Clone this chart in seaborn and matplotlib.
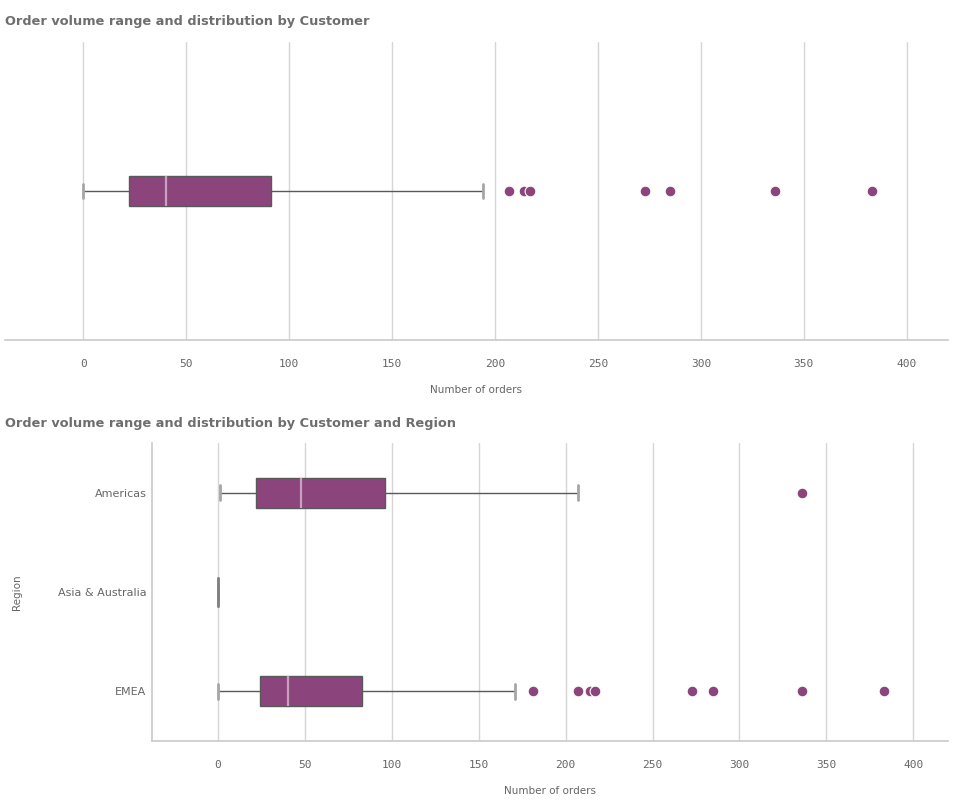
import matplotlib
matplotlib.use("Agg")
import matplotlib.pyplot as plt
import seaborn as sns
import pandas as pd

# Customer-level order volume (box statistics)
cust_stats = {"whislo": 0, "q1": 22, "med": 40, "q3": 91, "whishi": 194}
cust_outliers = [207, 214, 217, 273, 285, 336, 383]

# By region
regions = ["Americas", "Asia & Australia", "EMEA"]
region_whislo = [1, 0, 0]
region_q1 = [22, 0, 24]
region_med = [48, 0, 40]
region_q3 = [96, 0, 83]
region_whishi = [207, 0, 171]
region_outliers = {
    "Americas": [336],
    "Asia & Australia": [],
    "EMEA": [181, 207, 214, 217, 273, 285, 336, 383],
}

xticks = [0, 50, 100, 150, 200, 250, 300, 350, 400]

PURPLE = "#8c457c"
MEDIAN = "#c8a0c0"
EDGE = "#595959"
CAP = "#a6a6a6"
GRID = "#d6d6d6"
TEXT = "#666666"
TITLE = "#6e6e6e"

sns.set_theme(style="white")
plt.rcParams["font.family"] = ["DejaVu Sans"]

fig = plt.figure(figsize=(9.56, 8.07), dpi=100)
ax1 = fig.add_axes([0.0052, 0.5787, 0.9864, 0.3693])
ax2 = fig.add_axes([0.159, 0.0818, 0.8326, 0.3693])


def draw_boxes(ax, stats, positions, width, capw):
    return ax.bxp(stats, positions=positions, widths=width, orientation="horizontal",
                  patch_artist=True, showfliers=False, capwidths=capw,
                  boxprops=dict(facecolor=PURPLE, edgecolor=EDGE, linewidth=1),
                  medianprops=dict(color=MEDIAN, linewidth=1.6),
                  whiskerprops=dict(color=EDGE, linewidth=1),
                  capprops=dict(color=CAP, linewidth=2))


def style_axis(ax):
    ax.set_xlim(-38, 420)
    ax.set_xticks(xticks)
    ax.set_xticklabels([str(t) for t in xticks], family="DejaVu Sans Mono",
                       fontsize=8, color=TEXT)
    ax.xaxis.grid(True, color=GRID, linewidth=1)
    ax.yaxis.grid(False)
    ax.set_axisbelow(True)
    ax.tick_params(axis="x", length=0, pad=14)
    ax.tick_params(axis="y", length=0, pad=4)
    ax.set_xlabel("Number of orders", fontsize=7.5, color=TEXT, labelpad=11)
    for side in ["top", "right"]:
        ax.spines[side].set_visible(False)
    ax.spines["bottom"].set_color("#cccccc")
    ax.spines["left"].set_color("#cccccc")


# top chart
stat1 = dict(cust_stats, fliers=[])
draw_boxes(ax1, [stat1], [0], 0.1, 0.047)
df1 = pd.DataFrame({"orders": cust_outliers, "pos": [0] * len(cust_outliers)})
sns.scatterplot(data=df1, x="orders", y="pos", ax=ax1, color=PURPLE, s=60,
                edgecolor="white", linewidth=0.8, zorder=3, legend=False)
ax1.set_ylim(-0.5, 0.5)
ax1.set_yticks([])
ax1.set_ylabel("")
style_axis(ax1)
ax1.spines["left"].set_visible(False)

# bottom chart
stats2 = []
for i, r in enumerate(regions):
    stats2.append({"whislo": region_whislo[i], "q1": region_q1[i],
                   "med": region_med[i], "q3": region_q3[i],
                   "whishi": region_whishi[i], "fliers": []})
parts = draw_boxes(ax2, stats2, list(range(len(regions))), 0.3, 0.15)
# zero-width box: show it as a grey bar
for i in range(len(regions)):
    if region_q1[i] == region_q3[i]:
        parts["medians"][i].set_color("#7f7f7f")
        parts["medians"][i].set_linewidth(2)
rows = []
for r, vals in region_outliers.items():
    for v in vals:
        rows.append({"orders": v, "pos": regions.index(r)})
df2 = pd.DataFrame(rows)
sns.scatterplot(data=df2, x="orders", y="pos", ax=ax2, color=PURPLE, s=60,
                edgecolor="white", linewidth=0.8, zorder=3, legend=False)
ax2.set_ylim(len(regions) - 0.5, -0.5)
ax2.set_yticks(range(len(regions)))
ax2.set_yticklabels(regions, fontsize=8, color=TEXT)
style_axis(ax2)
ax2.set_ylabel("Region", fontsize=7.5, color=TEXT)
ax2.yaxis.set_label_coords(-0.163, 0.5)

fig.text(0.0052, 1 - 21 / 807, "Order volume range and distribution by Customer",
         fontsize=9.3, fontweight="bold", color=TITLE, va="center", ha="left")
fig.text(0.0052, 1 - 423 / 807, "Order volume range and distribution by Customer and Region",
         fontsize=9.3, fontweight="bold", color=TITLE, va="center", ha="left")

fig.savefig("out.png", dpi=100, facecolor="white")
